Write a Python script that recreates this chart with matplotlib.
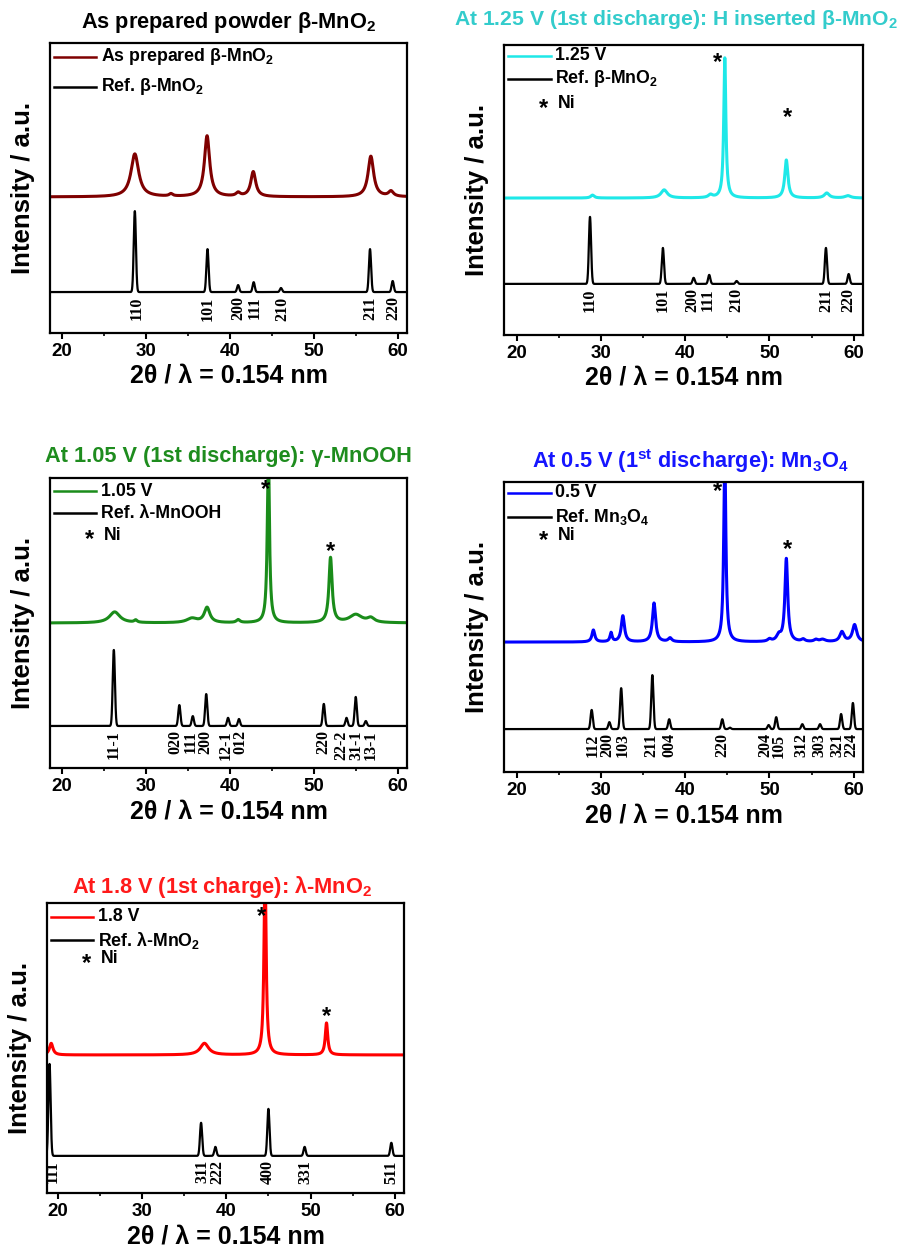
import numpy as np
import matplotlib
matplotlib.use('Agg')
import matplotlib.pyplot as plt
from matplotlib.lines import Line2D

plt.rcParams['font.family'] = ['Liberation Sans', 'DejaVu Sans']
plt.rcParams['font.weight'] = 'bold'
plt.rcParams['mathtext.fontset'] = 'custom'
plt.rcParams['mathtext.rm'] = 'Liberation Sans:bold'
plt.rcParams['mathtext.default'] = 'rm'

# ---------------- data (2theta in deg, intensity in a.u.) ----------------
# (a) as prepared beta-MnO2
a_exp_pos = [28.7, 33.0, 37.3, 41.0, 42.8, 56.8, 59.2]
a_exp_amp = [14.8, 0.8, 21.0, 1.2, 8.6, 14.0, 1.8]
a_exp_fwhm = [1.1, 0.5, 0.75, 0.6, 0.7, 0.8, 0.7]
a_ref_pos = [28.7, 37.35, 41.0, 42.85, 46.1, 56.7, 59.4]
a_ref_amp = [27.9, 14.8, 2.4, 3.4, 1.4, 14.8, 3.8]
a_hkl = ['110', '101', '200', '111', '210', '211', '220']
a_hkl_x = [28.9, 37.4, 41.0, 43.0, 46.3, 56.7, 59.5]

# (b) 1.25 V, H inserted beta-MnO2
b_exp_pos = [29.0, 37.5, 43.0, 44.7, 52.0, 56.8, 59.3]
b_exp_amp = [1.0, 2.8, 1.0, 48.3, 13.1, 1.7, 0.8]
b_exp_fwhm = [0.5, 0.9, 0.6, 0.3, 0.45, 0.7, 0.8]
b_ref_pos = [28.7, 37.35, 41.0, 42.85, 46.1, 56.7, 59.4]
b_ref_amp = [23.1, 12.4, 2.1, 3.1, 1.0, 12.4, 3.4]
b_hkl = ['110', '101', '200', '111', '210', '211', '220']
b_hkl_x = [28.7, 37.3, 40.9, 42.7, 46.1, 56.8, 59.4]
b_ni = [(43.8, 94.0), (52.1, 74.8)]

# (c) 1.05 V, gamma-MnOOH
c_exp_pos = [26.3, 28.8, 35.5, 37.3, 41.0, 44.6, 52.0, 55.0, 56.8]
c_exp_amp = [3.8, 0.8, 1.5, 5.2, 1.0, 60.0, 22.4, 2.8, 1.5]
c_exp_fwhm = [1.5, 0.4, 1.5, 0.8, 0.5, 0.3, 0.45, 1.8, 1.0]
c_ref_pos = [26.2, 34.0, 35.6, 37.2, 39.8, 41.1, 51.2, 53.9, 55.0, 56.2]
c_ref_amp = [26.2, 7.2, 3.4, 11.0, 2.8, 2.4, 7.6, 2.8, 10.0, 1.7]
c_hkl = ['11-1', '020', '111', '200', '12-1', '012', '220', '22-2', '31-1', '13-1']
c_hkl_x = [26.2, 33.5, 35.4, 37.1, 39.5, 41.3, 51.2, 53.3, 55.1, 56.8]
c_ni = [(44.2, 96.0), (52.0, 74.5)]

# (d) 0.5 V, Mn3O4
d_exp_pos = [29.1, 31.2, 32.6, 36.3, 38.2, 44.7, 50.0, 51.1, 52.0, 54.0, 55.5, 56.3, 58.6, 60.1]
d_exp_amp = [4.1, 3.1, 9.0, 13.4, 1.3, 65.0, 0.8, 2.0, 28.6, 0.8, 0.7, 0.8, 3.4, 5.9]
d_exp_fwhm = [0.4, 0.3, 0.45, 0.45, 0.5, 0.3, 0.5, 0.6, 0.4, 0.5, 0.5, 0.8, 0.6, 0.6]
d_ref_pos = [28.9, 31.0, 32.4, 36.1, 38.1, 44.4, 45.3, 49.9, 50.8, 53.9, 56.0, 58.5, 59.9]
d_ref_amp = [6.6, 2.4, 14.1, 18.6, 3.4, 3.4, 0.5, 1.4, 4.1, 1.7, 1.7, 5.2, 9.0]
d_hkl = ['112', '200', '103', '211', '004', '220', '204', '105', '312', '303', '321', '224']
d_hkl_x = [29.0, 30.8, 32.6, 36.0, 38.1, 44.4, 49.5, 51.1, 53.8, 55.9, 58.0, 59.7]
d_ni = [(43.8, 96.6), (52.1, 76.6)]

# (e) 1.8 V, lambda-MnO2
e_exp_pos = [19.2, 37.4, 44.6, 51.9]
e_exp_amp = [4.0, 4.0, 65.0, 11.0]
e_exp_fwhm = [0.5, 1.2, 0.3, 0.35]
e_ref_pos = [19.0, 37.0, 38.7, 45.0, 49.3, 59.6]
e_ref_amp = [31.7, 11.4, 3.1, 16.2, 3.1, 4.5]
e_hkl = ['111', '311', '222', '400', '331', '511']
e_hkl_x = [19.4, 37.1, 38.9, 44.9, 49.4, 59.6]
e_ni = [(44.2, 95.2), (51.9, 60.7)]

tt = np.linspace(18.4, 61.2, 5000)


def exp_pattern(base, pos, amp, fwhm):
    y = np.full_like(tt, base)
    for p, a, w in zip(pos, amp, fwhm):
        y += a / (1 + ((tt - p) / (w / 2)) ** 2)
    return y


def ref_pattern(base, pos, amp):
    y = np.full_like(tt, base)
    for p, a in zip(pos, amp):
        y += a * np.exp(-0.5 * ((tt - p) / 0.13) ** 2)
    return y


fig = plt.figure(figsize=(9.09, 12.47), dpi=100)

panels = [
    dict(rect=[0.0550, 0.7330, 0.3927, 0.2326], xlim=(18.6, 61.1),
         title=r'As prepared powder β-MnO$_2$', tcol='black', tdy=20, tx=0.5, tfs=15.7,
         col='#7f0000', exp=(a_exp_pos, a_exp_amp, a_exp_fwhm), eb=46.9,
         ref=(a_ref_pos, a_ref_amp), rb=14.1, hkl=(a_hkl, a_hkl_x),
         leg=[r'As prepared β-MnO$_2$', r'Ref. β-MnO$_2$'], rows=[0.952, 0.848], ni=None),
    dict(rect=[0.5545, 0.7314, 0.3949, 0.2326], xlim=(18.5, 61.1),
         title=r'At 1.25 V (1st discharge): H inserted β-MnO$_2$', tcol='#33cccc', tdy=25,
         tx=0.48, tfs=15.2,
         col='#1ee8e8', exp=(b_exp_pos, b_exp_amp, b_exp_fwhm), eb=47.2,
         ref=(b_ref_pos, b_ref_amp), rb=17.6, hkl=(b_hkl, b_hkl_x),
         leg=['1.25 V', r'Ref. β-MnO$_2$'], rows=[0.962, 0.883, 0.797], ni=b_ni),
    dict(rect=[0.0550, 0.3841, 0.3927, 0.2326], xlim=(18.6, 61.1),
         title='At 1.05 V (1st discharge): γ-MnOOH', tcol='#1e8c1e', tdy=21, tx=0.5, tfs=15.7,
         col='#1a8c1a', exp=(c_exp_pos, c_exp_amp, c_exp_fwhm), eb=50.0,
         ref=(c_ref_pos, c_ref_amp), rb=14.5, hkl=(c_hkl, c_hkl_x),
         leg=['1.05 V', 'Ref. λ-MnOOH'], rows=[0.955, 0.879, 0.803], ni=c_ni),
    dict(rect=[0.5545, 0.3809, 0.3949, 0.2326], xlim=(18.5, 61.1),
         title=r'At 0.5 V (1$^{st}$ discharge): Mn$_3$O$_4$', tcol='#1515ff', tdy=21,
         tx=0.52, tfs=15.7,
         col='#0000ff', exp=(d_exp_pos, d_exp_amp, d_exp_fwhm), eb=44.8,
         ref=(d_ref_pos, d_ref_amp), rb=14.8, hkl=(d_hkl, d_hkl_x),
         leg=['0.5 V', r'Ref. Mn$_3$O$_4$'], rows=[0.962, 0.879, 0.814], ni=d_ni),
    dict(rect=[0.0517, 0.0433, 0.3927, 0.2326], xlim=(18.7, 61.1),
         title=r'At 1.8 V (1st charge): λ-MnO$_2$', tcol='#ff1a1a', tdy=16, tx=0.49, tfs=15.7,
         col='#ff0000', exp=(e_exp_pos, e_exp_amp, e_exp_fwhm), eb=47.6,
         ref=(e_ref_pos, e_ref_amp), rb=12.8, hkl=(e_hkl, e_hkl_x),
         leg=['1.8 V', r'Ref. λ-MnO$_2$'], rows=[0.952, 0.872, 0.807], ni=e_ni),
]

for p in panels:
    ax = fig.add_axes(p['rect'])
    ax.plot(tt, exp_pattern(p['eb'], *p['exp']), color=p['col'], lw=2.2)
    ax.plot(tt, ref_pattern(p['rb'], *p['ref']), color='black', lw=1.6)
    ax.set_xlim(*p['xlim'])
    ax.set_ylim(0, 100)
    ax.set_yticks([])
    ax.set_xticks([20, 30, 40, 50, 60])
    ax.set_xticks([25, 35, 45, 55], minor=True)
    ax.tick_params(axis='x', which='major', direction='out', length=4, width=1.5,
                   labelsize=13.5, pad=3)
    ax.tick_params(axis='x', which='minor', direction='out', length=2.5, width=1.2)
    for lab in ax.get_xticklabels():
        lab.set_fontweight('bold')
    for s in ax.spines.values():
        s.set_linewidth(1.6)

    # hkl labels under the reference pattern
    names, xs = p['hkl']
    for name, x in zip(names, xs):
        ax.text(x, p['rb'] - 1.5, name, rotation=90, ha='center', va='top',
                fontsize=11.5, family='Liberation Serif', fontweight='bold')

    # Ni reflections
    if p['ni']:
        for x, y in p['ni']:
            ax.text(x, y, '*', ha='center', va='center', fontsize=17, fontweight='bold')

    # legend, drawn by hand
    rows = p['rows']
    for r, txt, c in zip(rows[:2], p['leg'], [p['col'], 'black']):
        ax.add_line(Line2D([0.012, 0.13], [r, r], transform=ax.transAxes, color=c, lw=1.8))
        ax.text(0.142, r, txt, transform=ax.transAxes, ha='left', va='center', fontsize=12.8)
    if p['ni']:
        ax.text(0.11, rows[2] - 0.015, '*', transform=ax.transAxes, ha='center', va='center',
                fontsize=17)
        ax.text(0.15, rows[2], 'Ni', transform=ax.transAxes, ha='left', va='center', fontsize=12.8)

    ax.text(p['tx'], 1 + p['tdy'] / 290, p['title'], transform=ax.transAxes, ha='center',
            va='center', fontsize=p['tfs'], color=p['tcol'])
    ax.text(0.5, -43 / 290, '2θ / λ = 0.154 nm', transform=ax.transAxes, ha='center',
            va='center', fontsize=18)
    ax.text(-27 / 357, 0.5, 'Intensity / a.u.', transform=ax.transAxes, rotation=90,
            ha='center', va='center', fontsize=18.5)

fig.savefig('out.png', dpi=100)
